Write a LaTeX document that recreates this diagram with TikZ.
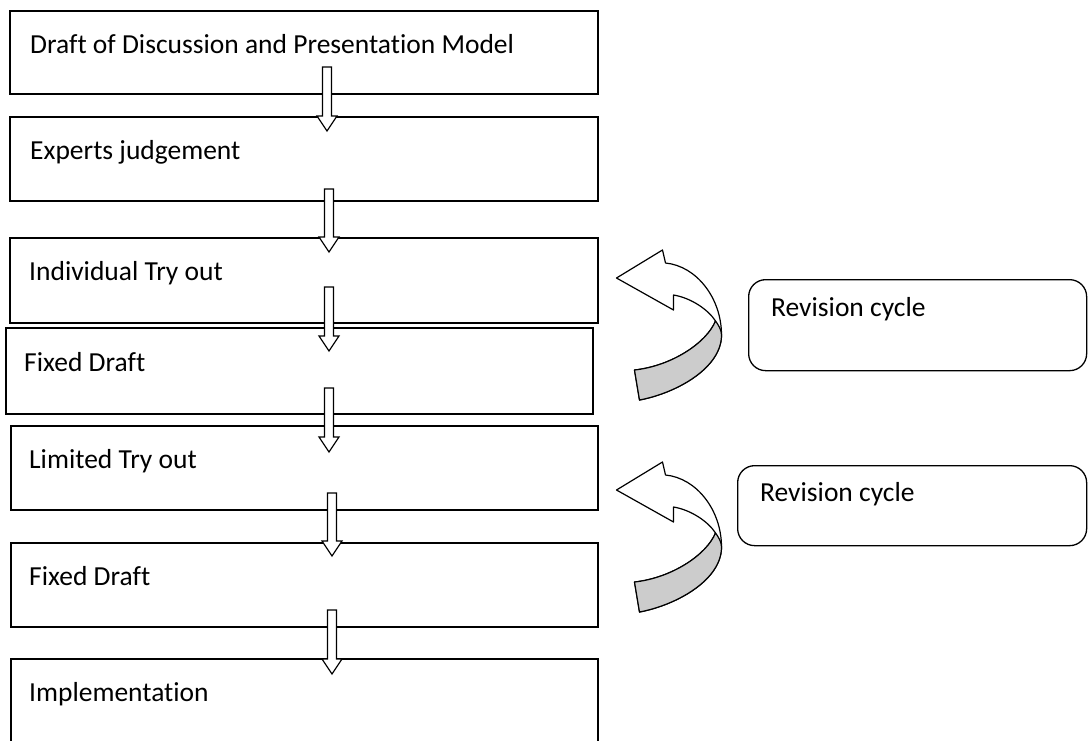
\documentclass[tikz,border=0pt]{standalone}
\usepackage{fontspec}
\setmainfont{Carlito}[Ligatures={NoCommon}]
\usetikzlibrary{calc}
\newcommand\blockarr[2]{\draw[barrow] let \p1=(#1), \p2=(#2) in
  (\x1-4.5pt,\y1) -- (\x1+4.5pt,\y1) -- (\x1+4.5pt,\y2+15pt) -- (\x1+10pt,\y2+15pt)
  -- (\x1,\y2) -- (\x1-10pt,\y2+15pt) -- (\x1-4.5pt,\y2+15pt) -- cycle;}
\tikzset{
  box/.style={draw, line width=1.5pt, inner sep=0pt, anchor=north west},
  revbox/.style={draw, line width=1.3pt, inner sep=0pt, anchor=north west, rounded corners=17pt},
  lbl/.style={anchor=base west, inner sep=0pt, font=\fontsize{27.5}{33}\selectfont},
  barrow/.style={draw, fill=white, line width=1.2pt, line join=miter},
  revarrow/.pic={
    \draw[fill=white, line width=1.2pt, line join=round]
      (0,0) -- (46,-28) -- (49,-15)
      .. controls (80,-12) and (105,20) .. (105,57)
      .. controls (105,90) and (60,115) .. (23,122)
      -- (18,92)
      .. controls (55,88) and (90,65) .. (99,43)
      .. controls (92,32) and (75,20) .. (57,17)
      -- (57,32) -- cycle;
    \draw[fill=black!20, line width=1.2pt, line join=round]
      (99,43) .. controls (102,47) and (105,52) .. (105,57)
      .. controls (105,90) and (60,115) .. (23,122)
      -- (18,92)
      .. controls (55,88) and (90,65) .. (99,43) -- cycle;
  }
}
\begin{document}
\begin{tikzpicture}[x=1pt,y=-1pt]
\useasboundingbox (0,0) rectangle (1088,740);
\clip (0,0) rectangle (1088,740);
\fill[white] (0,0) rectangle (1088,740);

% main boxes
\node[box, minimum width=588pt, minimum height=83pt] (b1) at (9,10) {};
\node[box, minimum width=588pt, minimum height=84pt] (b2) at (9,116) {};
\node[box, minimum width=588pt, minimum height=85pt] (b3) at (9,237) {};
\node[box, minimum width=587pt, minimum height=86pt] (b4) at (5,327) {};
\node[box, minimum width=587pt, minimum height=84pt] (b5) at (10,425) {};
\node[box, minimum width=587pt, minimum height=84pt] (b6) at (10,542) {};
\node[box, minimum width=587pt, minimum height=120pt] (b7) at (10,658) {};

% texts
\node[lbl] (t1) at ($(b1.north west)+(21,43.5)$) {Draft of Discussion and Presentation Model};
\node[lbl] (t2) at ($(b2.north west)+(21,43.5)$) {Experts judgement};
\node[lbl] (t3) at ($(b3.north west)+(20,43.5)$) {Individual Try out};
\node[lbl] (t4) at ($(b4.north west)+(19,44)$) {Fixed Draft};
\node[lbl] (t5) at ($(b5.north west)+(19,43.5)$) {Limited Try out};
\node[lbl] (t6) at ($(b6.north west)+(19,43.5)$) {Fixed Draft};
\node[lbl] (t7) at ($(b7.north west)+(19,43.5)$) {Implementation};

% revision boxes
\node[revbox, minimum width=338pt, minimum height=91pt] (r1) at (748,279) {};
\node[revbox, minimum width=349pt, minimum height=80pt] (r2) at (737,465) {};
\node[lbl] (rt1) at ($(r1.north west)+(23,37)$) {Revision cycle};
\node[lbl] (rt2) at ($(r2.north west)+(23,36)$) {Revision cycle};

% block arrows
\coordinate (s1) at (327,67);  \coordinate (e1) at (327,131);
\coordinate (s2) at (329,189); \coordinate (e2) at (329,252);
\coordinate (s3) at (329,287); \coordinate (e3) at (329,351);
\coordinate (s4) at (329,388); \coordinate (e4) at (329,452);
\coordinate (s5) at (332,493); \coordinate (e5) at (332,556);
\coordinate (s6) at (332,610); \coordinate (e6) at (332,674);
\blockarr{s1}{e1}
\blockarr{s2}{e2}
\blockarr{s3}{e3}
\blockarr{s4}{e4}
\blockarr{s5}{e5}
\blockarr{s6}{e6}

% curved revision arrows
\pic (ca1) at ($(b3.north east)+(18,41)$) {revarrow};
\pic (ca2) at ($(b5.north east)+(18,65)$) {revarrow};
\end{tikzpicture}
\end{document}
